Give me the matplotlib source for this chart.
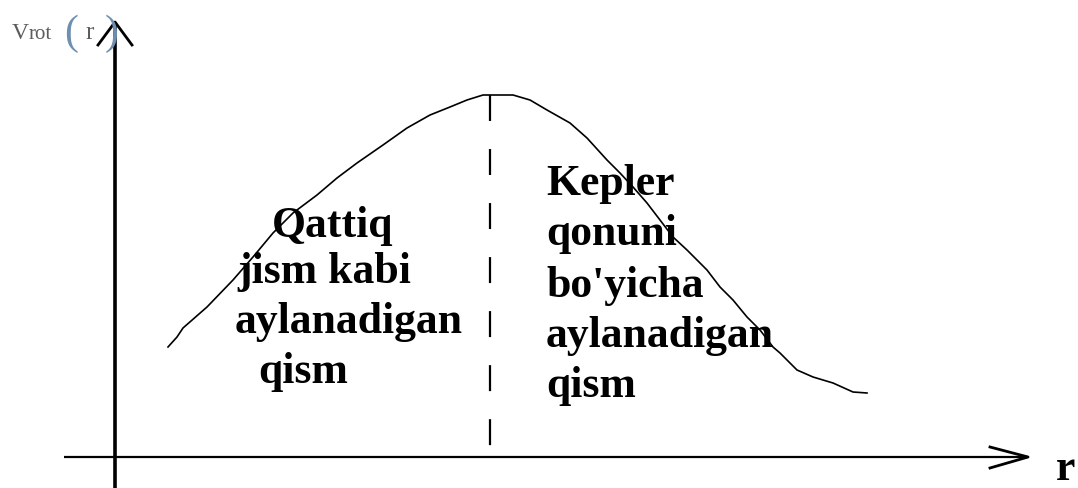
import matplotlib
matplotlib.use("Agg")
import matplotlib.pyplot as plt

plt.rcParams['lines.scale_dashes'] = False

# rotation curve (r, v in pixel-like units from origin)
curve_r = [53, 62, 68, 92, 118, 138, 158, 178, 202, 222, 242, 268, 292, 315,
           335, 352, 368, 398, 415, 432, 455, 472, 492, 505, 518, 532, 545,
           558, 572, 592, 605, 618, 632, 645, 658, 665, 682, 698, 718, 738, 752]
curve_v = [110, 120, 129, 150, 177, 200, 224, 244, 262, 279, 294, 312, 329,
           342, 350, 357, 362, 362, 357, 347, 334, 319, 297, 284, 270, 254,
           237, 220, 207, 187, 170, 157, 140, 127, 110, 104, 87, 80, 74, 65, 64]

# position of the maximum (boundary between the two parts)
r_peak = 375
v_peak = 362

# labels
left_lines = ["Qattiq", "jism kabi", "aylanadigan", "qism"]
left_pos = [(157, 220), (122, 174), (120, 124), (143, 74)]
right_lines = ["Kepler", "qonuni", "bo'yicha", "aylanadigan", "qism"]
right_v = [262, 212, 160, 110, 60]
right_r = 431

# axes extents
r_min, r_max = -51, 913
v_min, v_max = -31, 435

fig = plt.figure(figsize=(10.78, 4.88), dpi=100)
ax = fig.add_axes([0, 0, 1, 1])
ax.set_xlim(-115, 963)
ax.set_ylim(-31, 457)
ax.axis('off')

# coordinate axes
ax.plot([r_min, r_max], [0, 0], color='black', lw=1.6, solid_capstyle='butt')
ax.plot([0, 0], [v_min, v_max], color='black', lw=2.6, solid_capstyle='butt')

# arrow heads (open chevrons)
ax.plot([-17, 0, 17], [412, v_max, 412], color='black', lw=2.0)
ax.plot([r_max - 38, r_max, r_max - 38], [10, 0, -11], color='black', lw=2.0)

# curve
ax.plot(curve_r, curve_v, color='black', lw=1.2)

# dashed boundary
ax.plot([r_peak, r_peak], [v_peak, 0], color='black', lw=1.6,
        linestyle=(0, (18.7, 20.2)))

bold = dict(family='Liberation Serif', fontweight='bold', fontsize=31.5,
            ha='left', va='baseline', color='black')
for txt, (x, y) in zip(left_lines, left_pos):
    ax.text(x, y, txt, **bold)
for txt, y in zip(right_lines, right_v):
    ax.text(right_r, y, txt, **bold)

ax.text(941, -23, "r", **bold)

# y label  v_rot ( r)
grey = '#5c5c5c'
ax.text(-103, 418, "V", family='Liberation Serif', fontsize=17,
        color=grey, ha='left', va='baseline')
ax.text(-86, 418, "rot", family='Liberation Serif', fontsize=15,
        color=grey, ha='left', va='baseline')
ax.text(-51, 413, "(", family='Liberation Serif', fontsize=30,
        color='#6f8fb0', ha='left', va='baseline')
ax.text(-30, 418, "r", family='Liberation Serif', fontsize=18,
        color=grey, ha='left', va='baseline')
ax.text(-10, 413, ")", family='Liberation Serif', fontsize=30,
        color='#6f8fb0', ha='left', va='baseline')

fig.savefig("out.png", dpi=100)
